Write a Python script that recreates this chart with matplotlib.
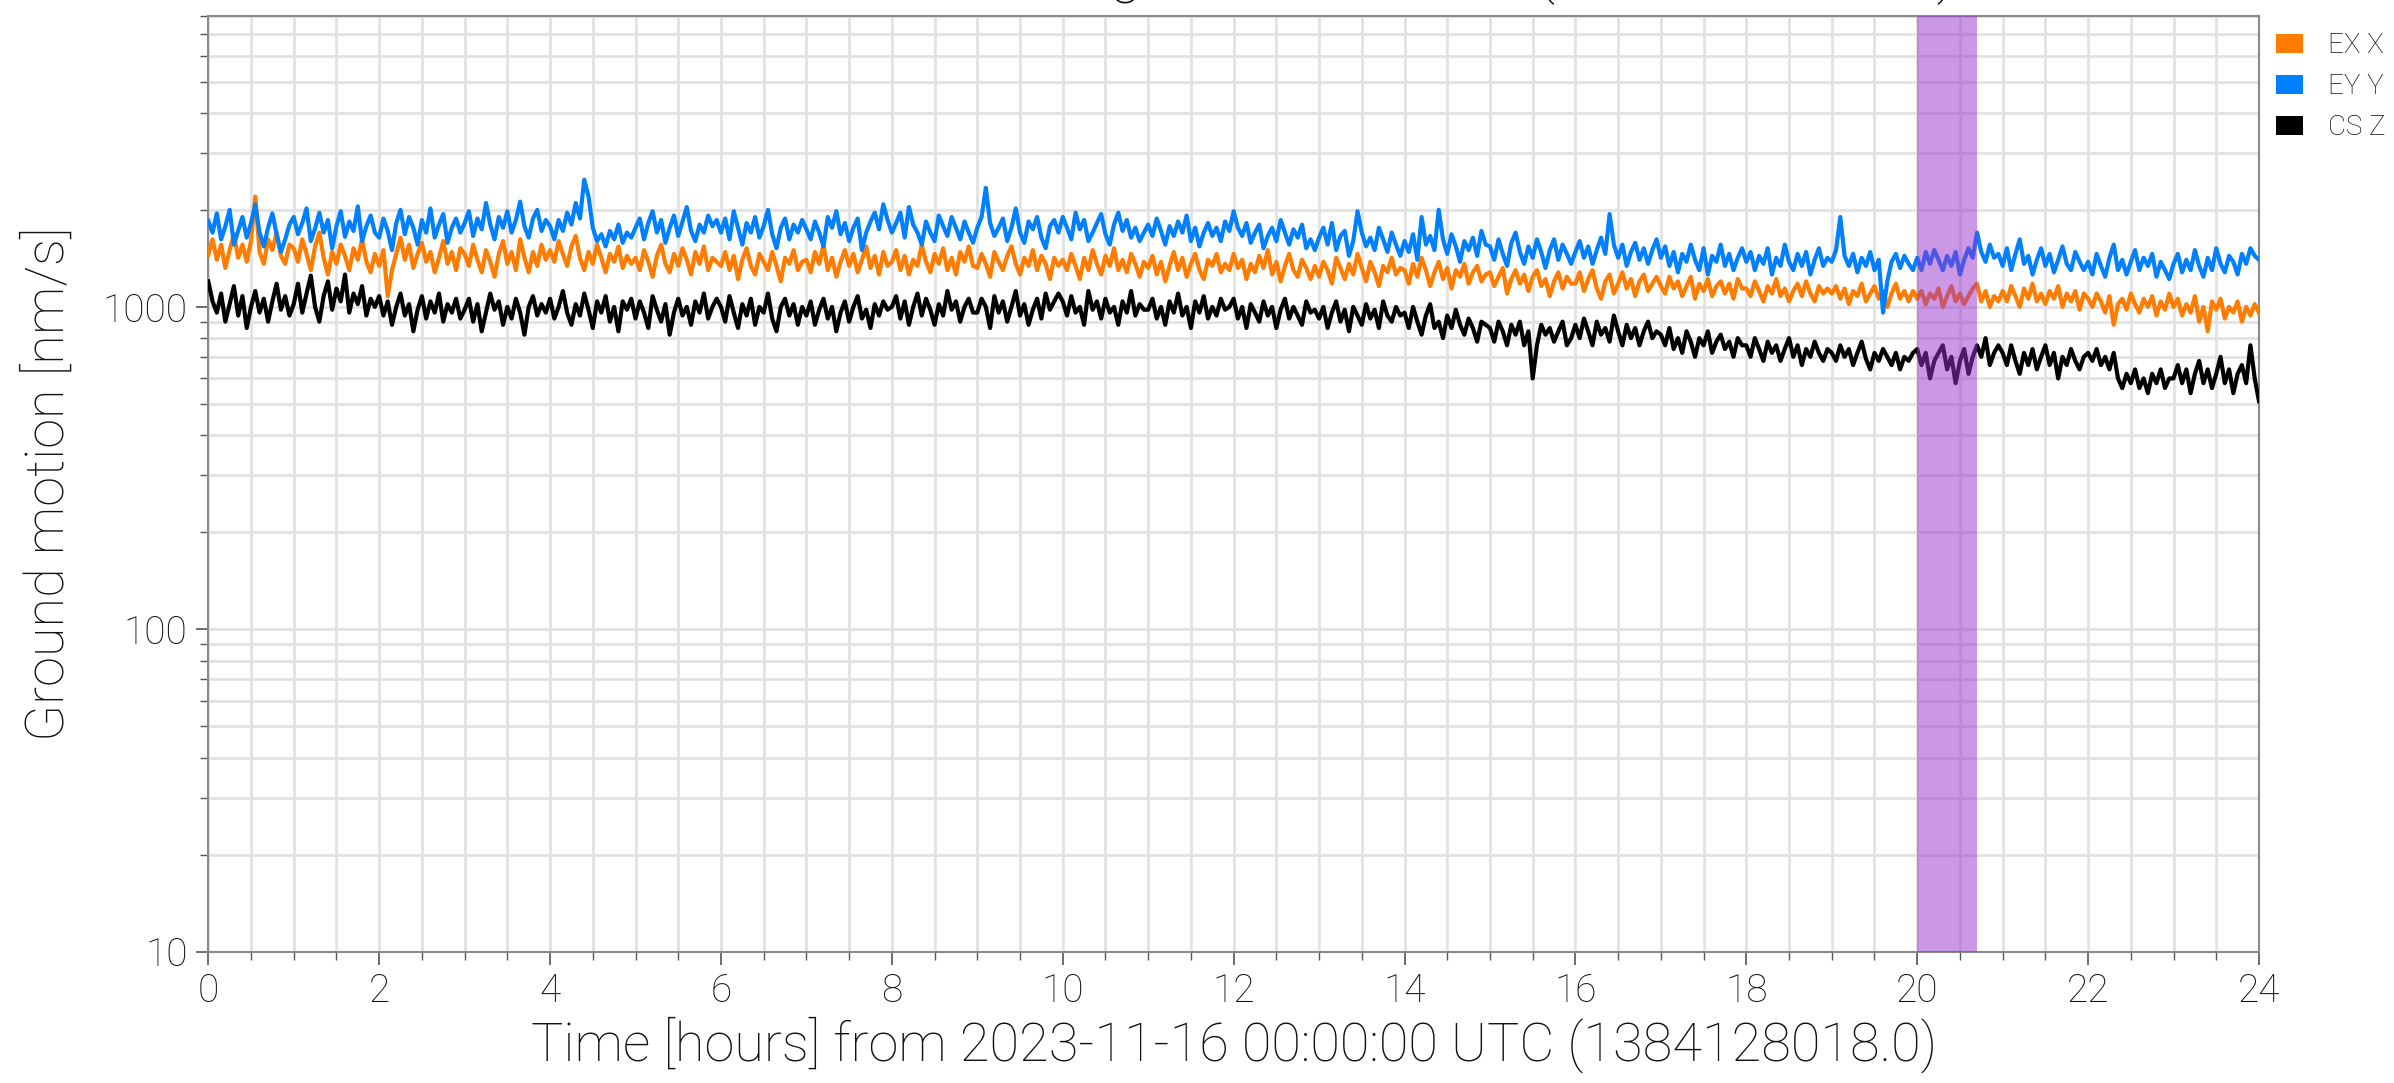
import numpy as np
import matplotlib
matplotlib.use("Agg")
import matplotlib.pyplot as plt
from matplotlib.patches import Patch
from matplotlib.ticker import MultipleLocator, LogLocator, NullFormatter, FixedLocator

# EX X ground motion [nm/s], one value every 3 minutes (20 per hour)
ex_x = [
    1450, 1620, 1400, 1560, 1320, 1500, 1680, 1420, 1560, 1380, 1600, 2200, 1480, 1360, 1620, 1500, 1700, 1440, 1360, 1560,
    1520, 1380, 1620, 1460, 1300, 1540, 1700, 1420, 1260, 1480, 1360, 1560, 1440, 1300, 1520, 1400, 1620, 1380, 1280, 1460,
    1340, 1500, 1080, 1300, 1460, 1640, 1400, 1560, 1320, 1460, 1580, 1380, 1480, 1280, 1420, 1600, 1360, 1480, 1300, 1520,
    1460, 1340, 1560, 1400, 1280, 1500, 1380, 1240, 1460, 1600, 1360, 1480, 1300, 1620, 1420, 1280, 1480, 1340, 1560, 1400,
    1500, 1380, 1600, 1460, 1340, 1540, 1660, 1420, 1300, 1480, 1360, 1560, 1420, 1280, 1460, 1380, 1540, 1320, 1440, 1360,
    1420, 1300, 1500, 1380, 1240, 1440, 1560, 1360, 1280, 1460, 1340, 1520, 1400, 1260, 1480, 1360, 1540, 1300, 1420, 1380,
    1340, 1480, 1300, 1440, 1220, 1400, 1520, 1340, 1260, 1460, 1380, 1300, 1480, 1340, 1200, 1420, 1360, 1500, 1300, 1380,
    1400, 1280, 1480, 1360, 1560, 1300, 1420, 1240, 1380, 1500, 1340, 1460, 1280, 1400, 1540, 1320, 1440, 1260, 1480, 1340,
    1380, 1500, 1300, 1440, 1260, 1400, 1340, 1560, 1380, 1280, 1460, 1360, 1520, 1300, 1420, 1260, 1480, 1380, 1540, 1340,
    1320, 1460, 1360, 1240, 1480, 1380, 1300, 1440, 1540, 1360, 1260, 1420, 1340, 1500, 1300, 1440, 1360, 1220, 1420, 1340,
    1400, 1300, 1460, 1340, 1220, 1420, 1300, 1500, 1360, 1260, 1440, 1340, 1520, 1300, 1400, 1280, 1460, 1360, 1240, 1380,
    1320, 1440, 1260, 1380, 1200, 1340, 1480, 1300, 1420, 1240, 1360, 1460, 1300, 1220, 1400, 1340, 1460, 1280, 1360, 1300,
    1460, 1320, 1400, 1220, 1360, 1280, 1440, 1320, 1500, 1260, 1380, 1200, 1340, 1460, 1300, 1240, 1400, 1320, 1220, 1340,
    1240, 1380, 1300, 1180, 1420, 1320, 1220, 1360, 1260, 1460, 1320, 1200, 1380, 1280, 1160, 1340, 1280, 1420, 1260, 1320,
    1300, 1180, 1360, 1240, 1420, 1300, 1160, 1280, 1380, 1220, 1320, 1140, 1300, 1240, 1360, 1180, 1280, 1340, 1200, 1260,
    1280, 1160, 1240, 1320, 1100, 1220, 1300, 1180, 1260, 1120, 1240, 1300, 1160, 1220, 1080, 1200, 1280, 1140, 1240, 1180,
    1180, 1280, 1120, 1220, 1300, 1140, 1060, 1200, 1260, 1100, 1180, 1280, 1140, 1220, 1080, 1200, 1260, 1120, 1180, 1240,
    1160, 1100, 1240, 1140, 1200, 1080, 1160, 1240, 1060, 1180, 1120, 1220, 1080, 1160, 1200, 1100, 1180, 1060, 1220, 1140,
    1140, 1080, 1200, 1120, 1040, 1160, 1100, 1220, 1080, 1140, 1040, 1120, 1180, 1080, 1200, 1100, 1040, 1160, 1100, 1140,
    1100, 1160, 1060, 1140, 1020, 1120, 1080, 1180, 1040, 1100, 1160, 1060, 1120, 1000, 1100, 1180, 1060, 1120, 1040, 1120,
    1060, 1120, 1020, 1100, 1060, 1140, 1000, 1080, 1160, 1040, 1100, 1020, 1080, 1140, 1180, 1040, 1120, 1000, 1080, 1040,
    1120, 1040, 1160, 1080, 1000, 1140, 1060, 1180, 1040, 1100, 1020, 1120, 1060, 1160, 1000, 1100, 1040, 1120, 980, 1100,
    1060, 1000, 1100, 1040, 960, 1080, 880, 1020, 1060, 980, 1100, 1020, 960, 1060, 1000, 1080, 940, 1040, 980, 1100,
    1000, 1060, 940, 1020, 960, 1080, 900, 1000, 840, 1040, 980, 1060, 920, 1000, 960, 1040, 900, 1000, 940, 1020,
    960,
]

# EY Y ground motion [nm/s]
ey_y = [
    1850, 1700, 1950, 1620, 1780, 2000, 1560, 1720, 1900, 1640, 1820, 2080, 1700, 1540, 1760, 1950, 1680, 1480, 1620, 1800,
    1900, 1680, 1820, 2020, 1600, 1750, 1960, 1700, 1860, 1520, 1780, 1980, 1650, 1840, 1720, 2050, 1600, 1780, 1920, 1700,
    1640, 1880, 1720, 1500, 1820, 2000, 1680, 1900, 1760, 1560, 1860, 1700, 2020, 1640, 1800, 1940, 1580, 1760, 1880, 1700,
    1820, 1980, 1660, 1880, 1740, 2100, 1800, 1620, 1900, 1760, 1980, 1700, 1860, 2120, 1780, 1640, 1880, 2000, 1720, 1860,
    1780, 1620, 1860, 1720, 1960, 1800, 2100, 1880, 2480, 2200, 1760, 1600, 1680, 1540, 1720, 1620, 1800, 1580, 1700, 1640,
    1760, 1880, 1620, 1820, 1980, 1700, 1860, 1580, 1760, 1920, 1660, 1840, 2040, 1720, 1600, 1800, 1700, 1920, 1780, 1860,
    1700, 1880, 1620, 1980, 1760, 1560, 1820, 1700, 1900, 1640, 1780, 2000, 1680, 1520, 1760, 1880, 1620, 1800, 1700, 1860,
    1740, 1620, 1840, 1700, 1540, 1900, 1760, 1980, 1680, 1820, 1600, 1760, 1880, 1500, 1700, 1840, 1960, 1740, 2080, 1860,
    1700, 1820, 1960, 1640, 2040, 1800, 1700, 1560, 1840, 1700, 1600, 1920, 1780, 1660, 1900, 1760, 1620, 1840, 1700, 1580,
    1760, 1900, 2340, 1820, 1660, 1760, 1880, 1600, 1760, 2020, 1700, 1580, 1840, 1740, 1900, 1640, 1520, 1780, 1860, 1700,
    1900, 1760, 1620, 1960, 1740, 1860, 1600, 1700, 1820, 1940, 1680, 1560, 1800, 1960, 1720, 1860, 1640, 1760, 1600, 1700,
    1800, 1660, 1880, 1720, 1560, 1780, 1660, 1840, 1700, 1920, 1600, 1760, 1540, 1700, 1820, 1660, 1760, 1600, 1840, 1720,
    1980, 1760, 1660, 1820, 1580, 1700, 1800, 1520, 1660, 1760, 1600, 1860, 1700, 1560, 1740, 1640, 1800, 1520, 1620, 1500,
    1640, 1760, 1560, 1820, 1500, 1660, 1720, 1440, 1600, 1980, 1700, 1540, 1640, 1500, 1760, 1620, 1480, 1700, 1560, 1440,
    1600, 1480, 1680, 1400, 1900, 1560, 1660, 1500, 2000, 1620, 1460, 1680, 1540, 1380, 1600, 1500, 1640, 1440, 1720, 1560,
    1540, 1400, 1620, 1460, 1340, 1580, 1700, 1480, 1360, 1540, 1420, 1620, 1480, 1320, 1500, 1620, 1400, 1560, 1460, 1360,
    1480, 1600, 1420, 1540, 1360, 1500, 1640, 1460, 1940, 1560, 1420, 1560, 1340, 1480, 1580, 1400, 1520, 1360, 1500, 1620,
    1420, 1540, 1340, 1480, 1280, 1460, 1380, 1560, 1400, 1300, 1520, 1260, 1440, 1380, 1560, 1340, 1460, 1300, 1420, 1520,
    1380, 1480, 1300, 1440, 1360, 1520, 1260, 1420, 1340, 1560, 1380, 1300, 1460, 1340, 1480, 1260, 1400, 1520, 1340, 1420,
    1380, 1500, 1900, 1440, 1340, 1460, 1280, 1420, 1340, 1480, 1300, 1400, 960, 1200, 1380, 1460, 1320, 1440, 1360, 1300,
    1420, 1300, 1480, 1360, 1500, 1400, 1300, 1440, 1340, 1480, 1260, 1400, 1520, 1420, 1700, 1480, 1380, 1560, 1420, 1460,
    1340, 1520, 1300, 1460, 1620, 1360, 1440, 1260, 1400, 1520, 1340, 1460, 1280, 1400, 1540, 1360, 1300, 1480, 1380, 1300,
    1380, 1260, 1460, 1340, 1240, 1420, 1560, 1300, 1400, 1260, 1380, 1500, 1300, 1420, 1340, 1460, 1240, 1380, 1300, 1220,
    1360, 1460, 1280, 1400, 1300, 1500, 1340, 1240, 1420, 1300, 1520, 1360, 1280, 1440, 1380, 1260, 1460, 1360, 1520, 1440,
    1400,
]

# CS Z ground motion [nm/s]
cs_z = [
    1200, 1040, 960, 1100, 900, 1020, 1160, 940, 1080, 860, 1000, 1120, 960, 1060, 900, 1040, 1180, 980, 1080, 940,
    1020, 1180, 960, 1100, 1250, 1000, 900, 1080, 1200, 980, 1140, 1040, 1260, 960, 1100, 1020, 1160, 940, 1060, 1000,
    1080, 940, 1040, 880, 1000, 1100, 940, 1020, 840, 980, 1080, 920, 1040, 960, 1100, 900, 1020, 960, 1060, 920,
    980, 1060, 900, 1020, 840, 960, 1100, 980, 1040, 880, 1000, 920, 1060, 960, 820, 1000, 1080, 940, 1020, 960,
    1060, 920, 1000, 1120, 960, 880, 1020, 940, 1100, 980, 860, 1040, 960, 1080, 900, 1000, 840, 1040, 980, 1060,
    920, 1040, 960, 860, 1080, 980, 900, 1020, 820, 960, 1060, 940, 1000, 880, 1040, 960, 1100, 920, 1000, 1060,
    1000, 900, 1080, 960, 860, 1020, 940, 1060, 880, 1000, 960, 1100, 920, 840, 1000, 1060, 940, 1020, 880, 1000,
    940, 1040, 880, 980, 1060, 920, 1000, 840, 960, 1040, 900, 1000, 1080, 920, 980, 860, 1020, 940, 1040, 980,
    1000, 1080, 920, 1040, 880, 1000, 1100, 940, 1060, 980, 880, 1020, 940, 1120, 980, 1040, 900, 1000, 1060, 960,
    960, 1060, 1000, 860, 1080, 960, 1040, 900, 1000, 1120, 940, 1020, 880, 980, 1060, 920, 1100, 980, 1040, 1100,
    1040, 940, 1080, 960, 1000, 880, 1120, 980, 1040, 920, 1060, 960, 1000, 880, 1040, 960, 1120, 940, 1020, 980,
    980, 1060, 920, 1000, 880, 1040, 960, 1100, 940, 1000, 860, 1040, 960, 1080, 920, 1000, 940, 1060, 980, 1000,
    1060, 920, 1000, 860, 1020, 960, 900, 1040, 940, 1000, 860, 980, 1060, 920, 1000, 940, 880, 1040, 960, 980,
    920, 1000, 860, 960, 1040, 900, 980, 840, 1000, 940, 880, 1020, 920, 980, 860, 1040, 940, 900, 1000, 940,
    960, 860, 1000, 900, 820, 940, 1020, 860, 900, 800, 940, 860, 980, 880, 820, 920, 860, 780, 900, 880,
    860, 780, 900, 840, 760, 880, 820, 900, 760, 840, 600, 760, 880, 820, 860, 780, 840, 900, 760, 800,
    880, 800, 920, 840, 760, 900, 820, 860, 780, 940, 840, 760, 880, 800, 860, 760, 840, 900, 800, 840,
    820, 760, 860, 740, 800, 720, 840, 780, 700, 800, 760, 840, 720, 780, 820, 740, 780, 700, 800, 760,
    760, 700, 800, 740, 680, 780, 720, 760, 680, 740, 800, 700, 760, 660, 740, 700, 780, 720, 680, 740,
    720, 680, 760, 700, 740, 660, 720, 780, 690, 640, 720, 680, 740, 700, 660, 720, 640, 700, 680, 720,
    740, 660, 720, 600, 680, 720, 760, 640, 700, 580, 680, 740, 620, 700, 760, 700, 800, 660, 720, 760,
    720, 660, 760, 680, 620, 720, 660, 740, 640, 700, 760, 660, 720, 600, 700, 660, 740, 680, 640, 700,
    720, 680, 740, 660, 700, 640, 720, 600, 560, 620, 580, 640, 560, 600, 540, 620, 580, 640, 560, 600,
    600, 660, 580, 640, 540, 620, 680, 580, 640, 560, 620, 700, 580, 640, 540, 620, 660, 580, 760, 600,
    510,
]

labels = ["EX X", "EY Y", "CS Z"]
colors = ["#ff7c00", "#0080ff", "#000000"]
span = (20.0, 20.7)

title = "H1 microseism band ground motion (100-300 mHz)"
xlabel = "Time [hours] from 2023-11-16 00:00:00 UTC (1384128018.0)"
ylabel = "Ground motion [nm/s]"

plt.rcParams["font.family"] = ["Roboto", "DejaVu Sans"]
plt.rcParams["font.weight"] = "light"
text_color = "#111111"

fig = plt.figure(figsize=(23.94, 10.83), dpi=100)
ax = fig.add_axes([0.0870, 0.1212, 0.8566, 0.8643])

for series, color in zip([ex_x, ey_y, cs_z], colors):
    t = np.linspace(0, 24, len(series))
    ax.plot(t, series, color=color, lw=3.0, zorder=3)

ax.axvspan(span[0], span[1], color="#9932cc", alpha=0.5, lw=0, zorder=5)

ax.set_yscale("log")
ax.set_xlim(0, 24)
ax.set_ylim(10, 8000)
ax.xaxis.set_major_locator(MultipleLocator(2))
ax.xaxis.set_minor_locator(MultipleLocator(0.5))
ax.yaxis.set_major_locator(FixedLocator([10, 100, 1000]))
ax.yaxis.set_minor_locator(LogLocator(base=10, subs=np.arange(2, 10)))
ax.yaxis.set_minor_formatter(NullFormatter())
ax.set_yticklabels(["10", "100", "1000"])

ax.grid(which="both", color="#e2e2e2", lw=2.0, zorder=0)
ax.set_axisbelow(True)

for side in ax.spines.values():
    side.set_color("#8a8a8a")
    side.set_linewidth(1.5)

ax.tick_params(which="major", length=9, width=1.2, color="#555555",
               labelsize=28, labelcolor=text_color, pad=6)
ax.tick_params(which="minor", length=6, width=1.0, color="#555555")

ax.set_xlabel(xlabel, fontsize=39, color=text_color, labelpad=5, fontweight="light")
ax.set_ylabel(ylabel, fontsize=39, color=text_color, labelpad=20, fontweight="light")

# the title sits above the saved area, only its descenders show
fig.text(0.5155, 1.0 + 10 / 1083, title, ha="center", va="baseline",
         fontsize=46.5, color=text_color)

handles = [Patch(facecolor=c, edgecolor="none", label=l) for c, l in zip(colors, labels)]
ax.legend(handles=handles, loc="upper left", bbox_to_anchor=(1.0, 1.0),
          frameon=False, fontsize=20, handlelength=1.0, handleheight=0.65,
          handletextpad=0.9, labelspacing=0.5, borderaxespad=0.2,
          labelcolor=text_color)

fig.savefig("out.png", dpi=100)
